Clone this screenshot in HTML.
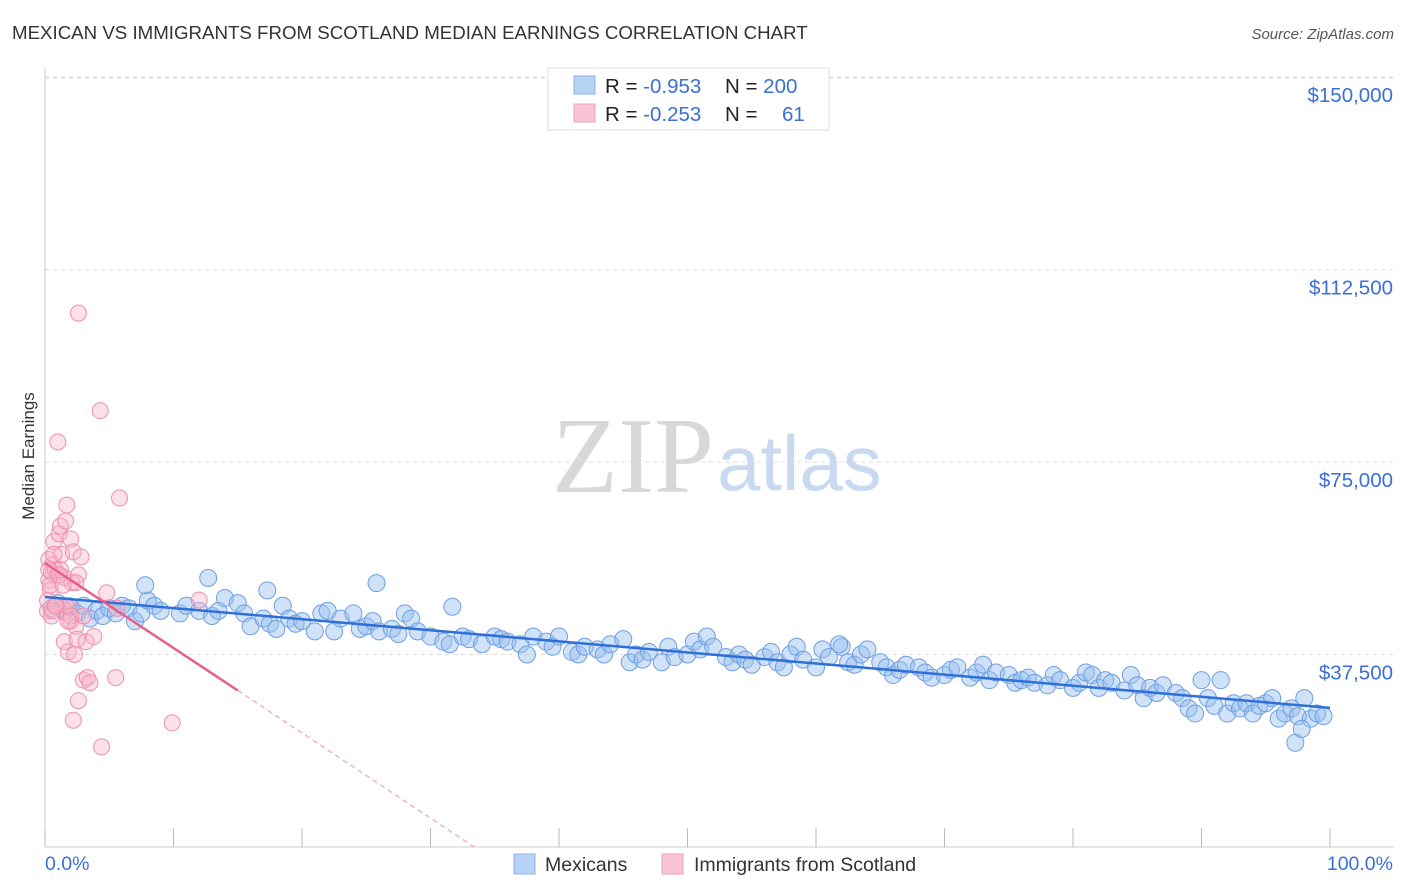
<!DOCTYPE html>
<html><head><meta charset="utf-8"><style>
body{margin:0;background:#fff;font-family:"Liberation Sans",sans-serif;}
svg{display:block}
</style></head><body>
<svg id="chart" width="1406" height="892">
<text x="12" y="39" font-size="18.7" fill="#333">MEXICAN VS IMMIGRANTS FROM SCOTLAND MEDIAN EARNINGS CORRELATION CHART</text>
<text x="1394" y="39" font-size="15" fill="#555" font-style="italic" text-anchor="end">Source: ZipAtlas.com</text>
<text x="34" y="456" font-size="17" fill="#333" text-anchor="middle" transform="rotate(-90 34 456)">Median Earnings</text>
<g id="grid"></g>
<text x="714" y="492" font-size="108" fill="#d8d8d8" text-anchor="end" font-family="Liberation Serif,serif">ZIP</text>
<text x="717" y="490" font-size="78" fill="#c9daf0">atlas</text>
<g id="marks"></g>
<g>
<rect x="548" y="68" width="281" height="62" fill="#fff" stroke="#ddd"/>
<rect x="574" y="76" width="21" height="18" fill="#b6d2f4" stroke="#8fb3e6"/>
<rect x="574" y="104" width="21" height="18" fill="#f9c5d4" stroke="#eea0b8"/>
<text x="605" y="93" font-size="20.5" fill="#222">R = <tspan fill="#3b6fd6">-0.953</tspan><tspan x="725">N = </tspan><tspan fill="#3b6fd6">200</tspan></text>
<text x="605" y="121" font-size="20.5" fill="#222">R = <tspan fill="#3b6fd6">-0.253</tspan><tspan x="725">N = </tspan><tspan fill="#3b6fd6" x="782">61</tspan></text>
</g>
<g>
<rect x="514" y="854" width="21" height="20" fill="#b6d2f4" stroke="#8fb3e6"/>
<text x="545" y="871" font-size="19.5" fill="#333">Mexicans</text>
<rect x="662" y="854" width="21" height="20" fill="#f9c5d4" stroke="#eea0b8"/>
<text x="694" y="871" font-size="19.5" fill="#333">Immigrants from Scotland</text>
</g>
</svg>
<script>
const yTicks=[37500,75000,112500,150000];
const yTickLabels=["$37,500","$75,000","$112,500","$150,000"];
const xTickLabels=["0.0%","100.0%"];
const mexX=[0.5,1,1.5,2,2.5,3,3.5,4,4.5,5,5.5,6,6.5,7,7.5,8,8.5,9,7.8,10.5,11,12,13,12.7,13.5,14,15,15.5,16,17,17.5,18,17.3,18.5,19,19.5,20,21,21.5,22,22.5,23,24,24.5,25,25.5,26,25.8,27,27.5,28,28.5,29,30,31,31.5,31.7,32.5,33,34,35,35.5,36,37,37.5,38,39,39.5,40,41,41.5,42,43,43.5,44,45,45.5,46,46.5,47,48,48.5,49,50,50.5,51,51.5,52,53,53.5,54,54.5,55,56,56.5,57,57.5,58,58.5,59,60,60.5,61,62,62.5,63,63.5,64,65,65.5,66,66.5,67,61.8,68,68.5,69,70,70.5,71,72,72.5,73,73.5,74,75,75.5,76,76.5,77,78,78.5,79,80,80.5,81,81.5,82,82.5,83,84,84.5,85,85.5,86,86.5,87,88,88.5,89,89.5,90,90.5,91,91.5,92,92.5,93,93.5,94,94.5,95,95.5,96,96.5,97,97.5,98,98.5,97.3,97.8,99,99.5];
const mexY=[46.5,47.5,46,46.8,45.5,47,44.5,46,45,46.5,45.5,47,46.5,44,45.5,48,47,46,51,45.5,47,46,45,52.4,46,48.5,47.5,45.5,43,44.5,43.5,42.5,50,47,44.5,43.5,44,42,45.5,46,42,44.5,45.5,42.5,43,44,42,51.4,42.5,41.5,45.5,44.5,42,41,40,39.5,46.8,41,40.5,39.5,41,40.5,40,39.5,37.5,41,40,39,41,38,37.5,39,38.5,37.5,39.5,40.5,36,37.5,36.5,38,36,39,37,37.5,40,38.5,41,39,37,36,37.5,36.5,35.5,37,38,36,35,37.5,39,36.5,35,38.5,37,39,36,35.5,37.5,38.5,36,35,33.5,34.5,35.5,39.5,35,34,33,33.5,34.5,35,33,34,35.5,32.5,34,33.5,32,32.5,33,32,31.5,33.5,32.5,31,32,34,33.5,31,32.5,32,30.5,33.5,31.5,29,31,30,31.5,30,29,27,26,32.5,29,27.5,32.5,26,28,27,28,26,27.5,28,29,25,26,27,25.5,29,25,20.3,23,26,25.5];
const scoX=[0.2,0.3,0.3,0.4,0.5,0.6,0.7,0.8,1,1,1.1,1.2,1.3,1.4,1.5,1.5,1.6,1.7,1.8,1.9,2,2,2.1,2.2,2.2,2.3,2.4,2.5,2.6,2.6,2.6,2.8,3,3,3.2,3.3,3.5,3.8,4.3,4.4,4.8,5.5,5.8,5.6,9.9,12,0.2,0.5,0.9,1.2,0.4,0.7,1.6,2.4,0.3,1.1,0.6,1.4,2.0,0.8,1.8];
const scoY=[46,52,56,50,53.5,55,59.5,54,78.9,53,61,62.5,57,46.5,40,52.5,63.5,66.6,38,47,60,44,51.5,57.5,24.7,37.5,43,40.5,53,28.5,104,56.5,45,32.5,40,33,32,41,85,19.5,49.5,33,68,46.5,24.2,48.1,48,45,47,54,51,57,47,51.5,54,53,46,51,45,47,44];
const x=v=>45+v*12.85, y=v=>847-v*1000/37500*192.5;
const NS="http://www.w3.org/2000/svg";
const g=document.getElementById('grid'), m=document.getElementById('marks');
function mk(p,tag,a){const e=document.createElementNS(NS,tag);for(const k in a)e.setAttribute(k,a[k]);p.appendChild(e);return e;}
yTicks.forEach((t,i)=>{
 const l=mk(g,'line',{x1:45,x2:1394,y1:y(t/1000),y2:y(t/1000),stroke:'#ddd','stroke-dasharray':'4,4'});
 
 
 const tx=mk(g,'text',{x:1393,y:y(t/1000)+25,'font-size':20.5,fill:'#3b6fd6','text-anchor':'end'});
 tx.textContent=yTickLabels[i];
 
 
});
mk(g,'line',{x1:45,x2:1394,y1:78,y2:78,stroke:'#ddd','stroke-dasharray':'4,4'});
mk(g,'line',{x1:45,x2:45,y1:68,y2:847,stroke:'#ccc'});
mk(g,'line',{x1:45,x2:1394,y1:847,y2:847,stroke:'#ccc'});
for(let i=0;i<=10;i++){const t=mk(g,'line',{x1:x(i*10),x2:x(i*10),y1:828,y2:847,stroke:'#bbb'});
 
 }
[[0,'start',45],[1,'end',1393]].forEach(([i,a,px])=>{const tx=mk(g,'text',{x:px,y:870,'font-size':19.5,fill:'#3b6fd6','text-anchor':a});tx.textContent=xTickLabels[i];
 
 });
mexX.forEach((v,i)=>{const c=mk(m,'circle',{cx:x(v),cy:y(mexY[i]),r:8.5,fill:'rgba(150,190,240,0.45)',stroke:'#6f9fe0','stroke-width':1});
 
 });
scoX.forEach((v,i)=>{const c=mk(m,'circle',{cx:x(v),cy:y(scoY[i]),r:8,fill:'rgba(248,180,200,0.4)',stroke:'#ee8fae','stroke-width':1});
 
 });
const b=mk(m,'line',{x1:x(0),y1:y(48.7),x2:x(100),y2:y(27.1),stroke:'#2f6fd8','stroke-width':2.5});


const p=mk(m,'line',{x1:x(0),y1:y(55.3),x2:x(15),y2:y(30.5),stroke:'#e8608a','stroke-width':2.5});


const pd=mk(m,'line',{x1:x(15),y1:y(30.5),x2:x(33.4),y2:y(0),stroke:'#eea0b8','stroke-width':1.2,'stroke-dasharray':'5,4'});


</script>
</body></html>
